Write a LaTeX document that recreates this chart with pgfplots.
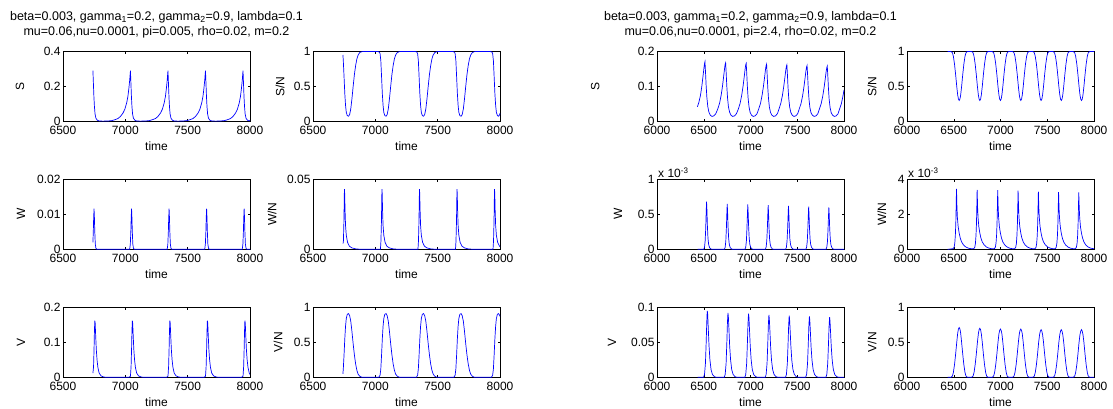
\documentclass[border=0pt]{standalone}
\usepackage{fontspec}
\setmainfont{Liberation Sans}
\usepackage{pgfplots}
\pgfplotsset{compat=1.18}
\definecolor{mblue}{RGB}{70,70,200}
\newcommand\fs{\fontsize{12}{14}\selectfont}
\newcommand\ts{\fontsize{12.5}{15}\selectfont}
\pgfplotsset{
  mstyle/.style={scale only axis, width=187pt, height=70pt, anchor=south west,
    tick align=inside, tick pos=both, major tick length=2.5pt,
    scaled y ticks=false, scaled x ticks=false, clip mode=individual,
    axis line style={line width=0.6pt}, every tick/.style={black, line width=0.5pt},
    tick label style={font=\fs}, label style={font=\fs}, xlabel={time},
    xticklabel style={yshift=-1pt}, yticklabel style={xshift=1pt},
    xlabel style={yshift=-0.5pt},
    ymin=0,
    title style={font=\ts, align=center, yshift=4pt},
    every axis plot/.append style={mblue, line width=0.7pt, no markers}},
  yl/.style={ylabel style={at={(axis description cs:#1,0.5)}, anchor=center}},
  leftx/.style={xmin=6500, xmax=8000, xtick={6500,7000,7500,8000}, xticklabels={6500,7000,7500,8000}},
  rightx/.style={xmin=6000, xmax=8000, xtick={6000,6500,7000,7500,8000}, xticklabels={6000,6500,7000,7500,8000}}
}
\begin{document}
\begin{tikzpicture}
\useasboundingbox (0,0) rectangle (1113pt,409pt);
% ---------------- LEFT GROUP ----------------
\begin{axis}[mstyle, leftx, at={(63pt,287.5pt)}, ymax=0.4, ytick={0,0.2,0.4}, yticklabels={0,0.2,0.4}, ylabel={S}, yl=-0.23,
  title={beta=0.003, gamma\textsubscript{1}=0.2, gamma\textsubscript{2}=0.9, lambda=0.1\\mu=0.06,nu=0.0001, pi=0.005, rho=0.02, m=0.2}]
\addplot coordinates {(6740,0.29) (6744,0.215) (6748,0.14) (6752,0.086) (6757,0.043) (6764,0.019) (6775,0.0075) (6790,0.003) (6820,0.002) (6861,0.003) (6891,0.005) (6916,0.01) (6941,0.017) (6961,0.029) (6981,0.048) (6996,0.07) (7011,0.107) (7021,0.145) (7029,0.193) (7035,0.236) (7039,0.274) (7041,0.29)
(7045,0.215) (7049,0.14) (7053,0.086) (7058,0.043) (7065,0.019) (7076,0.0075) (7091,0.003) (7121,0.002) (7162,0.003) (7192,0.005) (7217,0.01) (7242,0.017) (7262,0.029) (7282,0.048) (7297,0.07) (7312,0.107) (7322,0.145) (7330,0.193) (7336,0.236) (7340,0.274) (7342,0.29)
(7346,0.215) (7350,0.14) (7354,0.086) (7359,0.043) (7366,0.019) (7377,0.0075) (7392,0.003) (7422,0.002) (7463,0.003) (7493,0.005) (7518,0.01) (7543,0.017) (7563,0.029) (7583,0.048) (7598,0.07) (7613,0.107) (7623,0.145) (7631,0.193) (7637,0.236) (7641,0.274) (7643,0.29)
(7647,0.215) (7651,0.14) (7655,0.086) (7660,0.043) (7667,0.019) (7678,0.0075) (7693,0.003) (7723,0.002) (7764,0.003) (7794,0.005) (7819,0.01) (7844,0.017) (7864,0.029) (7884,0.048) (7899,0.07) (7914,0.107) (7924,0.145) (7932,0.193) (7938,0.236) (7942,0.274) (7944,0.29)
(7948,0.215) (7952,0.14) (7956,0.086) (7961,0.043) (7968,0.019) (7979,0.0075) (7994,0.003) (8000,0.006)};
\end{axis}
\begin{axis}[mstyle, leftx, at={(313pt,287.5pt)}, ymax=1, ytick={0,0.5,1}, yticklabels={0,0.5,1}, ylabel={S/N}, yl=-0.176]
\addplot coordinates {(6740,0.95) (6743,0.87) (6749,0.64) (6755,0.4) (6761,0.23) (6767,0.13) (6775,0.085) (6785,0.075) (6794,0.1) (6803,0.18) (6812,0.32) (6822,0.5) (6832,0.67) (6842,0.8) (6852,0.895) (6862,0.95) (6875,0.985) (6892,0.998) (6917,1.0) (7018,1.0) (7028,0.995) (7033,0.99) (7038,0.97)
(7044,0.87) (7050,0.64) (7056,0.4) (7062,0.23) (7068,0.13) (7076,0.085) (7086,0.075) (7095,0.1) (7104,0.18) (7113,0.32) (7123,0.5) (7133,0.67) (7143,0.8) (7153,0.895) (7163,0.95) (7176,0.985) (7193,0.998) (7218,1.0) (7319,1.0) (7329,0.995) (7334,0.99) (7339,0.97)
(7345,0.87) (7351,0.64) (7357,0.4) (7363,0.23) (7369,0.13) (7377,0.085) (7387,0.075) (7396,0.1) (7405,0.18) (7414,0.32) (7424,0.5) (7434,0.67) (7444,0.8) (7454,0.895) (7464,0.95) (7477,0.985) (7494,0.998) (7519,1.0) (7620,1.0) (7630,0.995) (7635,0.99) (7640,0.97)
(7646,0.87) (7652,0.64) (7658,0.4) (7664,0.23) (7670,0.13) (7678,0.085) (7688,0.075) (7697,0.1) (7706,0.18) (7715,0.32) (7725,0.5) (7735,0.67) (7745,0.8) (7755,0.895) (7765,0.95) (7778,0.985) (7795,0.998) (7820,1.0) (7921,1.0) (7931,0.995) (7936,0.99) (7941,0.97)
(7947,0.87) (7953,0.64) (7959,0.4) (7965,0.23) (7971,0.13) (7979,0.085) (7989,0.075) (7998,0.1) (8000,0.12)};
\end{axis}
\begin{axis}[mstyle, leftx, at={(63pt,159.7pt)}, ymax=0.02, ytick={0,0.01,0.02}, yticklabels={0,0.01,0.02}, ylabel={W}, yl=-0.225]
\addplot coordinates {(6740,0.002) (6743,0.005) (6746,0.009) (6749,0.0116) (6752,0.009) (6755,0.005) (6759,0.0015) (6764,0.0003) (6771,0) (7035,0) (7040,0.0015) (7044,0.005) (7047,0.009) (7050,0.0116) (7053,0.009) (7056,0.005) (7060,0.0015) (7065,0.0003) (7072,0) (7336,0) (7341,0.0015) (7345,0.005) (7348,0.009) (7351,0.0116) (7354,0.009) (7357,0.005) (7361,0.0015) (7366,0.0003) (7373,0) (7637,0) (7642,0.0015) (7646,0.005) (7649,0.009) (7652,0.0116) (7655,0.009) (7658,0.005) (7662,0.0015) (7667,0.0003) (7674,0) (7938,0) (7943,0.0015) (7947,0.005) (7950,0.009) (7953,0.0116) (7956,0.009) (7959,0.005) (7963,0.0015) (7968,0.0003) (7975,0) (8000,0)};
\end{axis}
\begin{axis}[mstyle, leftx, at={(313pt,159.7pt)}, ymax=0.05, ytick={0,0.05}, yticklabels={0,0.05}, ylabel={W/N}, yl=-0.219]
\addplot coordinates {(6741,0.004) (6744,0.006) (6748,0.02) (6751,0.038) (6752,0.043) (6754,0.04) (6757,0.028) (6761,0.017) (6767,0.01) (6777,0.005) (6792,0.0022) (6812,0.001) (6842,0.0003) (6882,0) (7041,0) (7045,0.006) (7049,0.02) (7052,0.038) (7053,0.043) (7055,0.04) (7058,0.028) (7062,0.017) (7068,0.01) (7078,0.005) (7093,0.0022) (7113,0.001) (7143,0.0003) (7183,0) (7342,0) (7346,0.006) (7350,0.02) (7353,0.038) (7354,0.043) (7356,0.04) (7359,0.028) (7363,0.017) (7369,0.01) (7379,0.005) (7394,0.0022) (7414,0.001) (7444,0.0003) (7484,0) (7643,0) (7647,0.006) (7651,0.02) (7654,0.038) (7655,0.043) (7657,0.04) (7660,0.028) (7664,0.017) (7670,0.01) (7680,0.005) (7695,0.0022) (7715,0.001) (7745,0.0003) (7785,0) (7944,0) (7948,0.006) (7952,0.02) (7955,0.038) (7956,0.043) (7958,0.04) (7961,0.028) (7965,0.017) (7971,0.01) (7981,0.005) (7996,0.0022) (8000,0.002)};
\end{axis}
\begin{axis}[mstyle, leftx, at={(63pt,31.7pt)}, ymax=0.2, ytick={0,0.1,0.2}, yticklabels={0,0.1,0.2}, ylabel={V}, yl=-0.225]
\addplot coordinates {(6740,0.012) (6745,0.03) (6749,0.08) (6752,0.13) (6755,0.162) (6758,0.155) (6762,0.12) (6767,0.08) (6773,0.05) (6780,0.028) (6790,0.012) (6805,0.004) (6825,0.001) (6845,0) (7029,0) (7041,0.003) (7046,0.03) (7050,0.08) (7053,0.13) (7056,0.162) (7059,0.155) (7063,0.12) (7068,0.08) (7074,0.05) (7081,0.028) (7091,0.012) (7106,0.004) (7126,0.001) (7146,0) (7330,0) (7342,0.003) (7347,0.03) (7351,0.08) (7354,0.13) (7357,0.162) (7360,0.155) (7364,0.12) (7369,0.08) (7375,0.05) (7382,0.028) (7392,0.012) (7407,0.004) (7427,0.001) (7447,0) (7631,0) (7643,0.003) (7648,0.03) (7652,0.08) (7655,0.13) (7658,0.162) (7661,0.155) (7665,0.12) (7670,0.08) (7676,0.05) (7683,0.028) (7693,0.012) (7708,0.004) (7728,0.001) (7748,0) (7932,0) (7944,0.003) (7949,0.03) (7953,0.08) (7956,0.13) (7959,0.162) (7962,0.155) (7966,0.12) (7971,0.08) (7977,0.05) (7984,0.028) (7994,0.012) (8000,0.008)};
\end{axis}
\begin{axis}[mstyle, leftx, at={(313pt,31.7pt)}, ymax=1, ytick={0,0.5,1}, yticklabels={0,0.5,1}, ylabel={V/N}, yl=-0.187]
\addplot coordinates {(6740,0.05) (6743,0.12) (6749,0.32) (6755,0.55) (6761,0.73) (6767,0.84) (6775,0.9) (6785,0.91) (6794,0.88) (6803,0.8) (6812,0.66) (6822,0.48) (6832,0.32) (6842,0.19) (6852,0.1) (6862,0.045) (6875,0.015) (6892,0) (7028,0) (7038,0.03) (7044,0.12) (7050,0.32) (7056,0.55) (7062,0.73) (7068,0.84) (7076,0.9) (7086,0.91) (7095,0.88) (7104,0.8) (7113,0.66) (7123,0.48) (7133,0.32) (7143,0.19) (7153,0.1) (7163,0.045) (7176,0.015) (7193,0) (7329,0) (7339,0.03) (7345,0.12) (7351,0.32) (7357,0.55) (7363,0.73) (7369,0.84) (7377,0.9) (7387,0.91) (7396,0.88) (7405,0.8) (7414,0.66) (7424,0.48) (7434,0.32) (7444,0.19) (7454,0.1) (7464,0.045) (7477,0.015) (7494,0) (7630,0) (7640,0.03) (7646,0.12) (7652,0.32) (7658,0.55) (7664,0.73) (7670,0.84) (7678,0.9) (7688,0.91) (7697,0.88) (7706,0.8) (7715,0.66) (7725,0.48) (7735,0.32) (7745,0.19) (7755,0.1) (7765,0.045) (7778,0.015) (7795,0) (7931,0) (7941,0.03) (7947,0.12) (7953,0.32) (7959,0.55) (7965,0.73) (7971,0.84) (7979,0.9) (7989,0.91) (7998,0.88) (8000,0.87)};
\end{axis}
% ---------------- RIGHT GROUP ----------------
\begin{axis}[mstyle, rightx, at={(657pt,287.5pt)}, ymax=0.2, ytick={0,0.1,0.2}, yticklabels={0,0.1,0.2}, ylabel={S}, yl=-0.33,
  title={beta=0.003, gamma\textsubscript{1}=0.2, gamma\textsubscript{2}=0.9, lambda=0.1\\mu=0.06,nu=0.0001, pi=2.4, rho=0.02, m=0.2}]
\addplot coordinates {(6432,0.042) (6448,0.055) (6465,0.075) (6479,0.1) (6491,0.127) (6501,0.15) (6508,0.165) (6513,0.171)
(6519,0.14) (6525,0.105) (6533,0.07) (6543,0.043) (6555,0.027) (6570,0.018) (6588,0.0145) (6608,0.016) (6628,0.022) (6649,0.035) (6669,0.052) (6686,0.075) (6700,0.1) (6712,0.127) (6722,0.15) (6729,0.164) (6734,0.168)
(6740,0.138) (6746,0.103) (6754,0.069) (6764,0.042) (6776,0.027) (6791,0.018) (6809,0.0145) (6829,0.016) (6849,0.022) (6869,0.035) (6889,0.052) (6906,0.075) (6920,0.1) (6932,0.126) (6942,0.149) (6949,0.162) (6954,0.166)
(6960,0.136) (6966,0.102) (6974,0.068) (6984,0.042) (6996,0.026) (7011,0.018) (7029,0.0145) (7049,0.016) (7069,0.022) (7087,0.035) (7107,0.052) (7124,0.075) (7138,0.1) (7150,0.125) (7160,0.148) (7167,0.16) (7172,0.164)
(7178,0.134) (7184,0.1) (7192,0.067) (7202,0.041) (7214,0.026) (7229,0.018) (7247,0.0145) (7267,0.016) (7287,0.022) (7304,0.035) (7324,0.052) (7341,0.074) (7355,0.099) (7367,0.124) (7377,0.146) (7384,0.158) (7389,0.162)
(7395,0.133) (7401,0.099) (7409,0.066) (7419,0.041) (7431,0.026) (7446,0.018) (7464,0.0145) (7484,0.016) (7504,0.022) (7520,0.035) (7540,0.051) (7557,0.073) (7571,0.098) (7583,0.123) (7593,0.145) (7600,0.156) (7605,0.16)
(7611,0.131) (7617,0.098) (7625,0.065) (7635,0.04) (7647,0.025) (7662,0.018) (7680,0.0145) (7700,0.016) (7720,0.022) (7736,0.035) (7756,0.051) (7773,0.073) (7787,0.097) (7799,0.121) (7809,0.143) (7816,0.154) (7821,0.158)
(7827,0.13) (7833,0.097) (7841,0.064) (7851,0.04) (7863,0.025) (7878,0.018) (7896,0.0145) (7916,0.016) (7936,0.022) (7952,0.035) (7972,0.051) (7989,0.073) (8000,0.09)};
\end{axis}
\begin{axis}[mstyle, rightx, at={(907pt,287.5pt)}, ymax=1, ytick={0,0.5,1}, yticklabels={0,0.5,1}, ylabel={S/N}, yl=-0.187]
\addplot coordinates {(6435,1) (6466,1) (6476,0.995) (6486,0.98) (6496,0.93) (6508,0.82) (6520,0.67) (6532,0.5) (6542,0.38) (6550,0.32) (6558,0.3) (6566,0.32) (6574,0.38) (6584,0.5) (6596,0.67) (6608,0.82) (6620,0.93) (6630,0.98) (6640,0.995) (6650,1)
(6687,1) (6697,0.995) (6707,0.98) (6717,0.93) (6729,0.82) (6741,0.67) (6753,0.5) (6763,0.38) (6771,0.32) (6779,0.3) (6787,0.32) (6795,0.38) (6805,0.5) (6817,0.67) (6829,0.82) (6841,0.93) (6851,0.98) (6861,0.995) (6871,1)
(6907,1) (6917,0.995) (6927,0.98) (6937,0.93) (6949,0.82) (6961,0.67) (6973,0.5) (6983,0.38) (6991,0.32) (6999,0.3) (7007,0.32) (7015,0.38) (7025,0.5) (7037,0.67) (7049,0.82) (7061,0.93) (7071,0.98) (7081,0.995) (7091,1)
(7125,1) (7135,0.995) (7145,0.98) (7155,0.93) (7167,0.82) (7179,0.67) (7191,0.5) (7201,0.38) (7209,0.32) (7217,0.3) (7225,0.32) (7233,0.38) (7243,0.5) (7255,0.67) (7267,0.82) (7279,0.93) (7289,0.98) (7299,0.995) (7309,1)
(7342,1) (7352,0.995) (7362,0.98) (7372,0.93) (7384,0.82) (7396,0.67) (7408,0.5) (7418,0.38) (7426,0.32) (7434,0.3) (7442,0.32) (7450,0.38) (7460,0.5) (7472,0.67) (7484,0.82) (7496,0.93) (7506,0.98) (7516,0.995) (7526,1)
(7558,1) (7568,0.995) (7578,0.98) (7588,0.93) (7600,0.82) (7612,0.67) (7624,0.5) (7634,0.38) (7642,0.32) (7650,0.3) (7658,0.32) (7666,0.38) (7676,0.5) (7688,0.67) (7700,0.82) (7712,0.93) (7722,0.98) (7732,0.995) (7742,1)
(7774,1) (7784,0.995) (7794,0.98) (7804,0.93) (7816,0.82) (7828,0.67) (7840,0.5) (7850,0.38) (7858,0.32) (7866,0.3) (7874,0.32) (7882,0.38) (7892,0.5) (7904,0.67) (7916,0.82) (7928,0.93) (7938,0.98) (7948,0.995) (7958,1) (8000,1)};
\end{axis}
\begin{axis}[mstyle, rightx, at={(657pt,159.7pt)}, ymax=1, ytick={0,0.5,1}, yticklabels={0,0.5,1}, ylabel={W}, yl=-0.209]
\node[anchor=south west, font=\fs, inner sep=1pt] at (rel axis cs:0,1) {x 10\textsuperscript{-3}};
\addplot coordinates {(6435,0) (6500,0) (6508,0.03) (6515,0.12) (6521,0.3) (6526,0.53) (6530,0.68) (6534,0.56) (6539,0.33) (6545,0.16) (6552,0.07) (6562,0.025) (6575,0.005) (6590,0)
(6721,0) (6729,0.03) (6736,0.12) (6742,0.3) (6747,0.51) (6751,0.65) (6755,0.53) (6760,0.32) (6766,0.16) (6773,0.07) (6783,0.025) (6796,0.005) (6811,0)
(6941,0) (6949,0.03) (6956,0.12) (6962,0.3) (6967,0.5) (6971,0.64) (6975,0.52) (6980,0.32) (6986,0.16) (6993,0.07) (7003,0.025) (7016,0.005) (7031,0)
(7159,0) (7167,0.03) (7174,0.12) (7180,0.29) (7185,0.49) (7189,0.63) (7193,0.52) (7198,0.31) (7204,0.15) (7211,0.07) (7221,0.025) (7234,0.005) (7249,0)
(7376,0) (7384,0.03) (7391,0.12) (7397,0.29) (7402,0.48) (7406,0.62) (7410,0.51) (7415,0.31) (7421,0.15) (7428,0.07) (7438,0.025) (7451,0.005) (7466,0)
(7592,0) (7600,0.03) (7607,0.11) (7613,0.28) (7618,0.48) (7622,0.61) (7626,0.5) (7631,0.3) (7637,0.15) (7644,0.065) (7654,0.024) (7667,0.005) (7682,0)
(7808,0) (7816,0.03) (7823,0.11) (7829,0.28) (7834,0.47) (7838,0.6) (7842,0.49) (7847,0.3) (7853,0.15) (7860,0.065) (7870,0.024) (7883,0.005) (7898,0) (8000,0)};
\end{axis}
\begin{axis}[mstyle, rightx, at={(907pt,159.7pt)}, ymax=4, ytick={0,2,4}, yticklabels={0,2,4}, ylabel={W/N}, yl=-0.134]
\node[anchor=south west, font=\fs, inner sep=1pt] at (rel axis cs:0,1) {x 10\textsuperscript{-3}};
\addplot coordinates {(6435,0) (6470,0.02) (6494,0.04) (6504,0.12) (6511,0.35) (6517,0.8) (6522,1.5) (6526,2.5) (6529,3.45) (6531,3.1) (6534,2.4) (6539,1.8) (6547,1.3) (6557,0.95) (6569,0.65) (6584,0.42) (6604,0.25) (6629,0.13) (6659,0.06) (6689,0.03)
(6715,0.04) (6725,0.12) (6732,0.35) (6738,0.8) (6743,1.5) (6747,2.5) (6750,3.4) (6752,3.05) (6755,2.4) (6760,1.8) (6768,1.3) (6778,0.95) (6790,0.65) (6805,0.42) (6825,0.25) (6850,0.13) (6880,0.06) (6910,0.03)
(6935,0.04) (6945,0.12) (6952,0.35) (6958,0.8) (6963,1.5) (6967,2.5) (6970,3.38) (6972,3.0) (6975,2.4) (6980,1.8) (6988,1.3) (6998,0.95) (7010,0.65) (7025,0.42) (7045,0.25) (7070,0.13) (7100,0.06) (7130,0.03)
(7153,0.04) (7163,0.12) (7170,0.35) (7176,0.8) (7181,1.5) (7185,2.5) (7188,3.35) (7190,3.0) (7193,2.4) (7198,1.8) (7206,1.3) (7216,0.95) (7228,0.65) (7243,0.42) (7263,0.25) (7288,0.13) (7318,0.06) (7348,0.03)
(7370,0.04) (7380,0.12) (7387,0.35) (7393,0.8) (7398,1.5) (7402,2.5) (7405,3.3) (7407,2.95) (7410,2.35) (7415,1.8) (7423,1.3) (7433,0.95) (7445,0.65) (7460,0.42) (7480,0.25) (7505,0.13) (7535,0.06) (7565,0.03)
(7586,0.04) (7596,0.12) (7603,0.35) (7609,0.8) (7614,1.5) (7618,2.5) (7621,3.27) (7623,2.9) (7626,2.35) (7631,1.8) (7639,1.3) (7649,0.95) (7661,0.65) (7676,0.42) (7696,0.25) (7721,0.13) (7751,0.06) (7781,0.03)
(7802,0.04) (7812,0.12) (7819,0.35) (7825,0.8) (7830,1.5) (7834,2.5) (7837,3.25) (7839,2.9) (7842,2.35) (7847,1.8) (7855,1.3) (7865,0.95) (7877,0.65) (7892,0.42) (7912,0.25) (7937,0.13) (7967,0.06) (8000,0.03)};
\end{axis}
\begin{axis}[mstyle, rightx, at={(657pt,31.7pt)}, ymax=0.1, ytick={0,0.05,0.1}, yticklabels={0,0.05,0.1}, ylabel={V}, yl=-0.241]
\addplot coordinates {(6435,0) (6498,0) (6508,0.004) (6518,0.02) (6526,0.05) (6532,0.078) (6536,0.091) (6538,0.095) (6542,0.09) (6548,0.071) (6556,0.046) (6566,0.025) (6578,0.011) (6593,0.004) (6613,0.001) (6633,0)
(6719,0) (6729,0.004) (6739,0.02) (6747,0.05) (6753,0.077) (6757,0.088) (6759,0.092) (6763,0.087) (6769,0.07) (6777,0.045) (6787,0.025) (6799,0.011) (6814,0.004) (6834,0.001) (6854,0)
(6939,0) (6949,0.004) (6959,0.02) (6967,0.05) (6973,0.076) (6977,0.087) (6979,0.091) (6983,0.086) (6989,0.069) (6997,0.045) (7007,0.025) (7019,0.011) (7034,0.004) (7054,0.001) (7074,0)
(7157,0) (7167,0.004) (7177,0.02) (7185,0.049) (7191,0.075) (7195,0.085) (7197,0.089) (7201,0.084) (7207,0.068) (7215,0.044) (7225,0.024) (7237,0.011) (7252,0.004) (7272,0.001) (7292,0)
(7374,0) (7384,0.004) (7394,0.02) (7402,0.049) (7408,0.074) (7412,0.084) (7414,0.088) (7418,0.083) (7424,0.067) (7432,0.044) (7442,0.024) (7454,0.011) (7469,0.004) (7489,0.001) (7509,0)
(7590,0) (7600,0.004) (7610,0.02) (7618,0.048) (7624,0.073) (7628,0.083) (7630,0.087) (7634,0.082) (7640,0.066) (7648,0.043) (7658,0.024) (7670,0.011) (7685,0.004) (7705,0.001) (7725,0)
(7806,0) (7816,0.004) (7826,0.02) (7834,0.048) (7840,0.072) (7844,0.082) (7846,0.086) (7850,0.081) (7856,0.065) (7864,0.043) (7874,0.024) (7886,0.011) (7901,0.004) (7921,0.001) (7941,0) (8000,0)};
\end{axis}
\begin{axis}[mstyle, rightx, at={(907pt,31.7pt)}, ymax=1, ytick={0,0.5,1}, yticklabels={0,0.5,1}, ylabel={V/N}, yl=-0.187]
\addplot coordinates {(6435,0) (6466,0) (6476,0.005) (6486,0.02) (6496,0.07) (6508,0.18) (6520,0.33) (6532,0.5) (6542,0.63) (6550,0.69) (6558,0.71) (6566,0.69) (6574,0.63) (6584,0.5) (6596,0.33) (6608,0.18) (6620,0.07) (6630,0.02) (6640,0.005) (6650,0)
(6687,0) (6697,0.005) (6707,0.02) (6717,0.07) (6729,0.18) (6741,0.33) (6753,0.5) (6763,0.62) (6771,0.68) (6779,0.7) (6787,0.68) (6795,0.62) (6805,0.5) (6817,0.33) (6829,0.18) (6841,0.07) (6851,0.02) (6861,0.005) (6871,0)
(6907,0) (6917,0.005) (6927,0.02) (6937,0.07) (6949,0.18) (6961,0.33) (6973,0.5) (6983,0.62) (6991,0.67) (6999,0.69) (7007,0.67) (7015,0.62) (7025,0.5) (7037,0.33) (7049,0.18) (7061,0.07) (7071,0.02) (7081,0.005) (7091,0)
(7125,0) (7135,0.005) (7145,0.02) (7155,0.07) (7167,0.18) (7179,0.33) (7191,0.5) (7201,0.62) (7209,0.67) (7217,0.69) (7225,0.67) (7233,0.62) (7243,0.5) (7255,0.33) (7267,0.18) (7279,0.07) (7289,0.02) (7299,0.005) (7309,0)
(7342,0) (7352,0.005) (7362,0.02) (7372,0.07) (7384,0.18) (7396,0.33) (7408,0.5) (7418,0.61) (7426,0.66) (7434,0.68) (7442,0.66) (7450,0.61) (7460,0.5) (7472,0.33) (7484,0.18) (7496,0.07) (7506,0.02) (7516,0.005) (7526,0)
(7558,0) (7568,0.005) (7578,0.02) (7588,0.07) (7600,0.18) (7612,0.33) (7624,0.5) (7634,0.61) (7642,0.66) (7650,0.68) (7658,0.66) (7666,0.61) (7676,0.5) (7688,0.33) (7700,0.18) (7712,0.07) (7722,0.02) (7732,0.005) (7742,0)
(7774,0) (7784,0.005) (7794,0.02) (7804,0.07) (7816,0.18) (7828,0.33) (7840,0.5) (7850,0.61) (7858,0.66) (7866,0.68) (7874,0.66) (7882,0.61) (7892,0.5) (7904,0.33) (7916,0.18) (7928,0.07) (7938,0.02) (7948,0.005) (7958,0) (8000,0)};
\end{axis}
\end{tikzpicture}
\end{document}
